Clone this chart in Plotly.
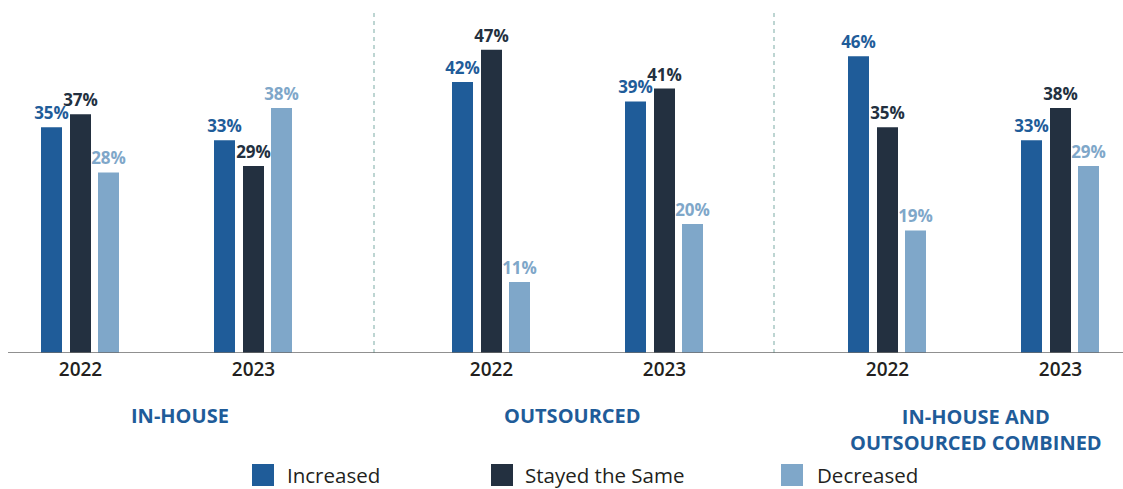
import plotly.graph_objects as go

# ---- data ----
groups = ["IN-HOUSE", "OUTSOURCED", "IN-HOUSE AND<br>OUTSOURCED COMBINED"]
years = ["2022", "2023"]
series_names = ["Increased", "Stayed the Same", "Decreased"]
increased = [35, 33, 42, 39, 46, 33]
stayed_same = [37, 29, 47, 41, 35, 38]
decreased = [28, 38, 11, 20, 19, 29]

# ---- layout constants (pixel based x axis) ----
W, H = 1123, 489
BASE_Y = 353                      # pixel row of the baseline
PX_PER_PCT = 6.45
cluster_x = [80.5, 253.5, 491.5, 664.5, 887.5, 1060.5]
group_label_x = [180, 572, 976]
separator_x = [374, 774]
bar_w = 21
offsets = [-39.5, -10.5, 17.5]
colors = ["#1f5c99", "#233040", "#7fa7c9"]
ink = "#231f20"

values = [increased, stayed_same, decreased]

fig = go.Figure()
for name, vals, off, col in zip(series_names, values, offsets, colors):
    fig.add_trace(go.Bar(
        x=cluster_x, y=vals, name=name,
        width=bar_w, offset=off,
        marker=dict(color=col, line=dict(width=0)),
        text=[f"{v}%" for v in vals], textposition="outside",
        constraintext="none",
        textfont=dict(family="Open Sans", size=17, color=col, weight="bold"),
        cliponaxis=False, showlegend=False,
    ))

ymax = BASE_Y / PX_PER_PCT
plot_h = BASE_Y

def py(pix):
    """pixel row -> paper y"""
    return (BASE_Y - pix) / plot_h

shapes = []
# baseline
shapes.append(dict(type="line", xref="x", yref="y", x0=8, x1=W, y0=0, y1=0,
                   line=dict(color="#6b6b6b", width=1.5)))
# dashed separators between groups
for sx in separator_x:
    shapes.append(dict(type="line", xref="x", yref="paper", x0=sx, x1=sx,
                       y0=0, y1=py(13), line=dict(color="#a8c8c4", width=1.5, dash="4px,4px"),
                       layer="below"))

annotations = []
for gx, g in zip(group_label_x, groups):
    annotations.append(dict(x=gx, xref="x", y=py(415 if "<br>" not in g else 429), yref="paper",
                            text=g, showarrow=False, xanchor="center", yanchor="middle",
                            font=dict(family="Open Sans", size=20, color="#1f5c99", weight="bold")))

# legend drawn as squares + labels
legend_sq_x = [252, 491, 781]
legend_txt_x = [285, 523, 815]
for sx, tx, name, col in zip(legend_sq_x, legend_txt_x, series_names, colors):
    shapes.append(dict(type="rect", xref="x", yref="paper", x0=sx, x1=sx + 22,
                       y0=py(486), y1=py(464), fillcolor=col, line=dict(width=0)))
    annotations.append(dict(x=tx, xref="x", y=py(475), yref="paper", text=name,
                            showarrow=False, xanchor="left", yanchor="middle",
                            font=dict(family="Open Sans", size=20.5, color=ink)))

fig.update_layout(
    width=W, height=H,
    margin=dict(l=0, r=0, t=0, b=H - BASE_Y),
    plot_bgcolor="white", paper_bgcolor="white",
    barmode="overlay",
    xaxis=dict(range=[0, W], showgrid=False, zeroline=False, showline=False,
               tickmode="array", tickvals=cluster_x, ticktext=years * 3,
               ticks="", ticklabelstandoff=3,
               tickfont=dict(family="Open Sans", size=19, color=ink, weight=600)),
    yaxis=dict(range=[0, ymax], visible=False),
    shapes=shapes, annotations=annotations,
    showlegend=False,
)

fig.write_html("out.html")
